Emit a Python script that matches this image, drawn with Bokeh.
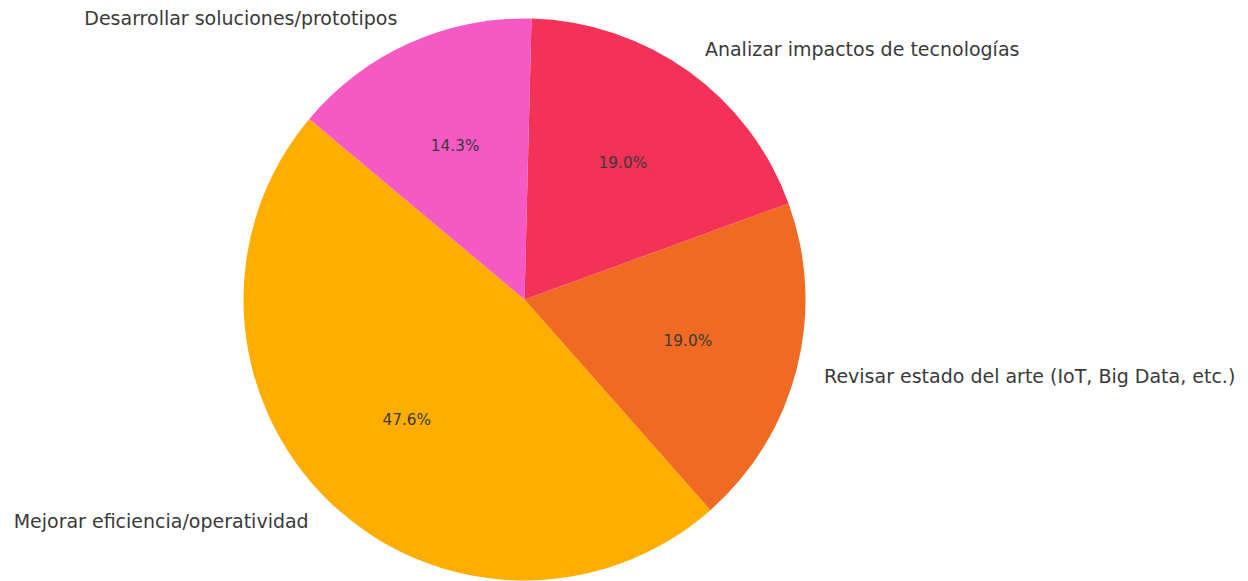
import numpy as np
from bokeh.plotting import figure
from bokeh.models import Range1d, ColumnDataSource
from bokeh.core.properties import value
from bokeh.embed import file_html
from bokeh.resources import INLINE

categories = [
    "Mejorar eficiencia/operatividad",
    "Revisar estado del arte (IoT, Big Data, etc.)",
    "Analizar impactos de tecnologías",
    "Desarrollar soluciones/prototipos",
]
counts = [10, 4, 4, 3]
colors = ["#FFAE00", "#F06A22", "#F43156", "#F759C4"]
start_angle_deg = 140

W, H = 1248, 581
cx_px, cy_px = 524, 299  # pie centre in figure pixels (from top-left)
R = 281

p = figure(width=W, height=H, output_backend="svg", toolbar_location=None,
           x_range=Range1d(-cx_px, W - cx_px), y_range=Range1d(-(H - cy_px), cy_px),
           min_border=0)
p.axis.visible = False
p.grid.visible = False
p.outline_line_color = None
p.background_fill_color = "white"
p.border_fill_color = "white"

vals = np.array(counts, dtype=float)
frac = vals / vals.sum()
ends = start_angle_deg + np.cumsum(frac) * 360
starts = ends - frac * 360
mids = np.deg2rad((starts + ends) / 2)

src = ColumnDataSource(dict(start=np.deg2rad(starts), end=np.deg2rad(ends), color=colors))
p.wedge(x=0, y=0, radius=R, start_angle="start", end_angle="end", direction="anticlock",
        fill_color="color", line_color=None, source=src)

lx = 1.1 * R * np.cos(mids)
ly = 1.1 * R * np.sin(mids)
align = ["left" if x > 0 else "right" for x in lx]
lab = ColumnDataSource(dict(x=lx, y=ly, text=categories, align=align))
p.text(x="x", y="y", text="text", text_align="align", text_baseline="middle",
       text_font=value("DejaVu Sans"), text_font_size="19px", text_color="#3a3a3a", source=lab)

px = 0.6 * R * np.cos(mids)
py = 0.6 * R * np.sin(mids)
pct = ["%.1f%%" % (f * 100) for f in frac]
pl = ColumnDataSource(dict(x=px, y=py, text=pct))
p.text(x="x", y="y", text="text", text_align="center", text_baseline="middle",
       text_font=value("DejaVu Sans"), text_font_size="15.3px", text_color="#3a3a3a", source=pl)

open("out.html", "w").write(file_html(p, INLINE))
